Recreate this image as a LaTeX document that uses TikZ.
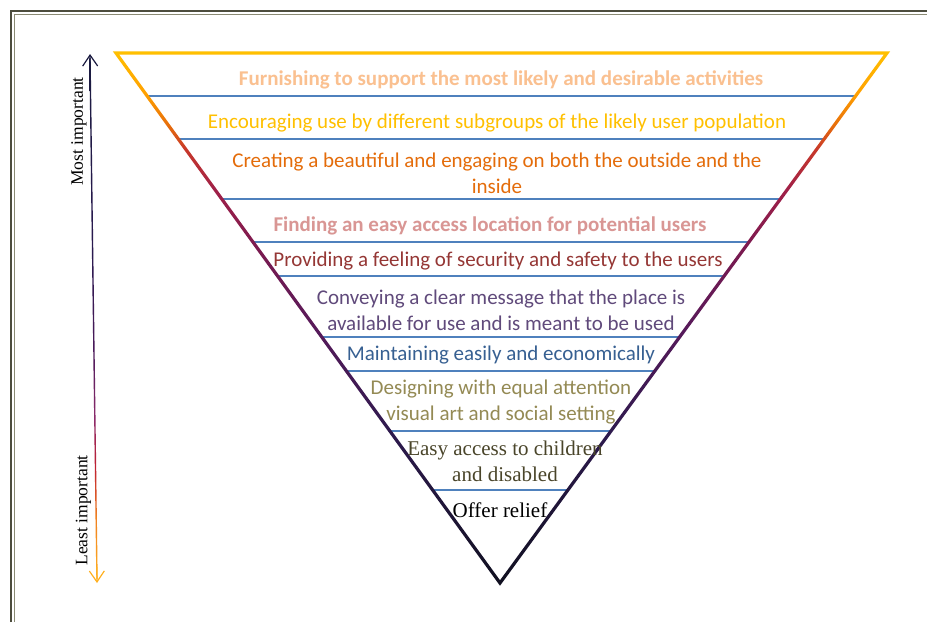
\documentclass[tikz,border=0pt]{standalone}
\usepackage{fontspec}
\setmainfont{Liberation Serif}
\newfontfamily\calibri{Carlito}
\usetikzlibrary{calc, arrows.meta}

% tier colours
\definecolor{cFurnish}{HTML}{FAC090}
\definecolor{cEncourage}{HTML}{FFC000}
\definecolor{cCreate}{HTML}{E46C0A}
\definecolor{cFind}{HTML}{D99694}
\definecolor{cProvide}{HTML}{953735}
\definecolor{cConvey}{HTML}{604A7B}
\definecolor{cMaintain}{HTML}{376092}
\definecolor{cDesign}{HTML}{948A54}
\definecolor{cEasy}{HTML}{4A452A}
\definecolor{sepblue}{HTML}{4F81BD}
\definecolor{frameout}{HTML}{4D4D3E}
\definecolor{framein}{HTML}{8A8A74}

% edge colours, top to bottom
\definecolor{edgeA}{HTML}{FFC000}
\definecolor{edgeB}{HTML}{FFA000}
\definecolor{edgeC}{HTML}{E8700A}
\definecolor{edgeD}{HTML}{C8382A}
\definecolor{edgeE}{HTML}{A02048}
\definecolor{edgeF}{HTML}{7A1A50}
\definecolor{edgeG}{HTML}{561A5A}
\definecolor{edgeH}{HTML}{2E1A4E}
\definecolor{edgeI}{HTML}{101020}

% arrow colours, top to bottom
\definecolor{arrA}{HTML}{1A1A40}
\definecolor{arrB}{HTML}{2A1A50}
\definecolor{arrC}{HTML}{4A1A5A}
\definecolor{arrD}{HTML}{8B2A6B}
\definecolor{arrE}{HTML}{C02030}
\definecolor{arrF}{HTML}{F08020}
\definecolor{arrG}{HTML}{FFB020}

\pgfdeclareverticalshading{edgeshade}{100bp}{color(0bp)=(edgeI); color(25bp)=(edgeI);
  color(39.43bp)=(edgeH); color(48.87bp)=(edgeG); color(56.42bp)=(edgeF);
  color(62.08bp)=(edgeE); color(65.85bp)=(edgeD); color(68.21bp)=(edgeC);
  color(71.04bp)=(edgeB); color(75bp)=(edgeA); color(100bp)=(edgeA)}
\pgfdeclareverticalshading{arrowshade}{100bp}{color(0bp)=(arrG); color(25bp)=(arrG);
  color(30.97bp)=(arrF); color(35.70bp)=(arrE); color(40.44bp)=(arrD);
  color(47.06bp)=(arrC); color(56.53bp)=(arrB); color(75bp)=(arrA); color(100bp)=(arrA)}

\tikzset{
  tier/.style={font=\calibri\fontsize{21}{26}\selectfont, align=center, inner sep=0pt},
  tierbold/.style={tier, font=\calibri\bfseries\fontsize{21}{26}\selectfont},
  tierserif/.style={font=\fontsize{21}{26}\selectfont, align=center, inner sep=0pt},
  sideline/.style={font=\fontsize{17.5}{20}\selectfont, rotate=90, inner sep=0pt},
  sepline/.style={draw=sepblue, line width=1.3pt},
  headtip/.style={-{Straight Barb[length=11pt, width=15pt]}, line width=1.2pt}
}

\begin{document}
\begin{tikzpicture}[x=1pt, y=-1pt]
\useasboundingbox[fill=white] (0,0) rectangle (927,622);

% double frame
\draw[frameout, line width=1.5pt] (11,622) -- (11,11) -- (927,11);
\draw[framein, line width=1pt] (14.5,622) -- (14.5,14.5) -- (927,14.5);

% triangle corners and incentre
\coordinate (tl) at (116,53);
\coordinate (tr) at (887,53);
\coordinate (bot) at (500,583);
\coordinate (ic) at (500.6,249.3);

% separators
\foreach \yy in {96,139,199,242,276,337,371,431,490} {
    \pgfmathsetmacro{\pos}{(\yy-53)/530}
    \draw[sepline] ($(tl)!\pos!(bot)$) -- ($(tr)!\pos!(bot)$);
}

% shaded outline
\shade[shading=edgeshade, even odd rule]
    ($(ic)!1.0082!(tl)$) -- ($(ic)!1.0082!(tr)$) -- ($(ic)!1.0082!(bot)$) -- cycle
    ($(ic)!0.9918!(tl)$) -- ($(ic)!0.9918!(tr)$) -- ($(ic)!0.9918!(bot)$) -- cycle;

% importance arrow
\coordinate (mtop) at (90,54);
\coordinate (mbot) at (97,583);
\shade[shading=arrowshade] ($(mtop)+(-0.7,4)$) -- ($(mtop)+(0.7,4)$)
    -- ($(mbot)+(0.7,-4)$) -- ($(mbot)+(-0.7,-4)$) -- cycle;
\draw[headtip, arrA] ($(mtop)!0.03!(mbot)$) -- (mtop);
\draw[headtip, arrG] ($(mbot)!0.03!(mtop)$) -- (mbot);
\node[sideline] (most) at (79,131.5) {Most important};
\node[sideline] (least) at (83.5,510.5) {Least important};

% tiers
\node[tierbold, text=cFurnish] (furnish) at (501,80) {Furnishing to support the most likely and desirable activities};
\node[tier, text=cEncourage] (encourage) at (497,123) {Encouraging use by different subgroups of the likely user population};
\node[tier, text=cCreate] (create) at (497,173) {Creating a beautiful and engaging on both the outside and the\\inside};
\node[tierbold, text=cFind] (find) at (490,226) {Finding an easy access location for potential users};
\node[tier, text=cProvide] (provide) at (498,261) {Providing a feeling of security and safety to the users};
\node[tier, text=cConvey] (convey) at (501,310) {Conveying a clear message that the place is\\available for use and is meant to be used};
\node[tier, text=cMaintain] (maintain) at (501,355) {Maintaining easily and economically};
\node[tier, text=cDesign] (design) at (501,402) {Designing with equal attention\\visual art and social setting};
\node[tierserif, text=cEasy] (easy) at (505,461) {Easy access to children\\and disabled};
\node[tierserif] (relief) at (500,510) {Offer relief};
\end{tikzpicture}
\end{document}
